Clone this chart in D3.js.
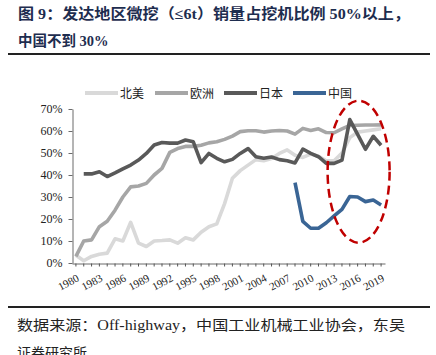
<!DOCTYPE html>
<html><head><meta charset="utf-8">
<script src="https://cdn.jsdelivr.net/npm/d3@7/dist/d3.min.js"></script>
<style>
html,body{margin:0;padding:0;background:#fff;}
svg{display:block;}
</style></head>
<body>
<script>
const years = d3.range(1980, 2020);
const northAmerica = [3.5,1,3,4,4.5,11,10,18.5,9,7.5,10,10.2,10.5,9,11.5,10.5,14,16.5,17.8,27,38.5,42,44.5,47,46.5,47.5,49.8,51.4,49,48,49.5,48.5,46.5,46.5,50,57,59.5,60,60.5,61];
const europe = [3,10,10.5,16.5,19,24,30,34.6,35,36.2,40,43,50.3,52,53,53,53.5,54.6,55.1,56.2,57.7,59.7,60.1,60.1,59.5,60,60.2,60,58.6,61.2,60.2,61,59.3,59.2,61,62.5,62.6,62.7,62.7,62.8];
const japan = [null,40.5,40.5,41.5,39.3,41,42.8,44.5,46.8,49.8,53.6,54.8,54.5,54.5,55.9,55.1,45.6,49.8,47.6,46,47.1,49.8,52,48.3,47.6,48.2,47,46.5,45.5,51.8,49.8,48.3,45.3,45.3,46.8,65.2,58.5,51.7,57.6,53.5];
const china = [null,null,null,null,null,null,null,null,null,null,null,null,null,null,null,null,null,null,null,null,null,null,null,null,null,null,null,null,36.5,18.9,15.8,15.8,18.3,21.4,24.4,30.2,30,27.9,28.6,26.4];
const seriesNames = ["北美","欧洲","日本","中国"];
const seriesColors = ["#d9d9d9","#a6a6a6","#595959","#3a6595"];
const yTicks = [0,10,20,30,40,50,60,70];
const xLabelYears = d3.range(1980, 2020, 3);

const W = 436, H = 355;
const svg = d3.select("body").append("svg").attr("width", W).attr("height", H)
  .style("font-family", "'Liberation Serif','Noto Sans CJK SC',serif");
svg.append("rect").attr("width", W).attr("height", H).attr("fill", "#fff");

// Title
const titleColor = "#1e2d4f";
svg.append("text").attr("x", 18).attr("y", 19).attr("fill", titleColor)
  .attr("font-size", 14.5).attr("font-weight", "bold")
  .attr("textLength", 392).attr("lengthAdjust", "spacingAndGlyphs")
  .text("图 9：发达地区微挖（≤6t）销量占挖机比例 50%以上，");
svg.append("text").attr("x", 18).attr("y", 46).attr("fill", titleColor)
  .attr("font-size", 14.5).attr("font-weight", "bold")
  .text("中国不到 30%");
svg.append("line").attr("x1", 8).attr("x2", 430).attr("y1", 54).attr("y2", 54)
  .attr("stroke", "#222").attr("stroke-width", 2);

// Scales
const x = d3.scaleBand().domain(years).range([72, 385]);
const cx = d => x(d) + x.bandwidth() / 2;
const y = d3.scaleLinear().domain([0, 70]).range([263, 109]);

// Axes
const yAxis = svg.append("g").attr("transform", "translate(72.5,0)")
  .call(d3.axisLeft(y).tickValues(yTicks).tickSize(4).tickSizeOuter(0).tickPadding(6).tickFormat(d => d + "%"));
yAxis.select(".domain").attr("stroke", "#6b6b6b");
yAxis.selectAll(".tick line").attr("stroke", "#6b6b6b");
yAxis.selectAll("text").attr("font-size", 12).attr("fill", "#222")
  .attr("font-family", "'Liberation Serif',serif");

const xAxis = svg.append("g").attr("transform", "translate(0,263.5)")
  .call(d3.axisBottom(x).tickValues(years).tickSize(3).tickSizeOuter(0).tickFormat(d => xLabelYears.includes(d) ? d : ""));
xAxis.select(".domain").attr("stroke", "#6b6b6b");
xAxis.selectAll(".tick line").attr("stroke", "#555");
xAxis.selectAll("text").attr("font-size", 11).attr("fill", "#222")
  .attr("font-family", "'Liberation Serif',serif")
  .attr("text-anchor", "end").attr("dy", null).attr("y", null)
  .attr("transform", "translate(4,17) rotate(-28)");

// Lines
const allSeries = [northAmerica, europe, japan, china];
const line = d3.line().defined(d => d.v != null).x(d => cx(d.year)).y(d => y(d.v));
allSeries.forEach((vals, i) => {
  const data = years.map((yr, j) => ({year: yr, v: vals[j]}));
  svg.append("path").datum(data).attr("d", line).attr("fill", "none")
    .attr("stroke", seriesColors[i]).attr("stroke-width", 3.6)
    .attr("stroke-linejoin", "round");
});

// Legend
const legendX = [85, 155, 224, 293];
seriesNames.forEach((n, i) => {
  const g = svg.append("g");
  g.append("line").attr("x1", legendX[i]).attr("x2", legendX[i] + 33)
    .attr("y1", 93).attr("y2", 93).attr("stroke", seriesColors[i]).attr("stroke-width", 4);
  g.append("text").attr("x", legendX[i] + 35).attr("y", 97.5).attr("font-size", 12)
    .attr("fill", "#222").attr("font-family", "'Noto Sans CJK SC',sans-serif").text(n);
});

// Red dashed ellipse highlight
svg.append("ellipse").attr("cx", cx(2016) + 1).attr("cy", y(41.5)).attr("rx", 31).attr("ry", 71)
  .attr("fill", "none").attr("stroke", "#c00000").attr("stroke-width", 2.5)
  .attr("stroke-dasharray", "9,5");

// Source
svg.append("line").attr("x1", 8).attr("x2", 430).attr("y1", 307).attr("y2", 307)
  .attr("stroke", "#222").attr("stroke-width", 2);
svg.append("text").attr("x", 17).attr("y", 330).attr("font-size", 14).attr("fill", "#222")
  .attr("textLength", 388).attr("lengthAdjust", "spacingAndGlyphs")
  .text("数据来源：Off-highway，中国工业机械工业协会，东吴");
svg.append("text").attr("x", 17).attr("y", 358).attr("font-size", 14).attr("fill", "#222")
  .text("证券研究所");
</script>
</body></html>
